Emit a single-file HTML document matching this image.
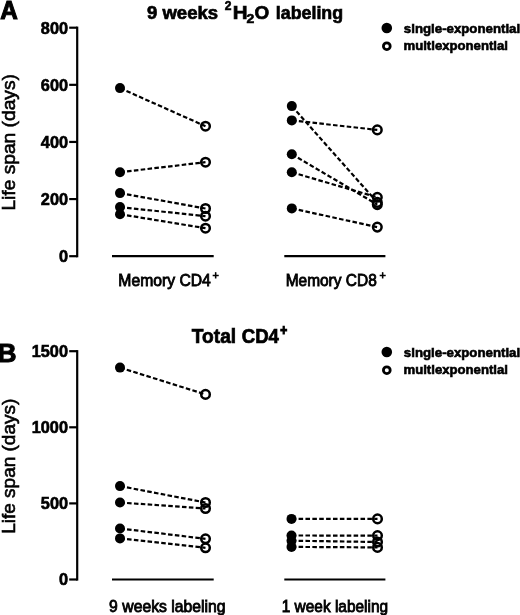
<!DOCTYPE html>
<html lang="en"><head><meta charset="utf-8"><title>Life span estimates</title>
<style>
html,body{margin:0;padding:0;background:#fff;}
body{width:520px;height:615px;overflow:hidden;}
svg{display:block;font-family:"Liberation Sans",Arial,Helvetica,sans-serif;fill:#000;stroke:#000;stroke-width:0;}
.ax{stroke-width:2.2;fill:none;}
.d{stroke-width:2.2;stroke-dasharray:4.55 2.33;stroke-dashoffset:-.2;fill:none;}
.o{stroke-width:2.5;fill:none;}
.tk{font-size:16.3px;font-weight:bold;stroke-width:.6px;}
.xl{font-size:15.5px;stroke-width:.8px;}
.xs{font-size:11.5px;stroke-width:.8px;}
.yl{font-size:19px;stroke-width:.6px;}
.tt{font-size:19px;font-weight:bold;stroke-width:.7px;}
.ts{font-size:13px;font-weight:bold;stroke-width:.6px;}
.tp{font-size:13px;font-weight:bold;stroke-width:1.1px;}
.lg{font-size:13px;font-weight:bold;stroke-width:.6px;}
.pl{font-size:26.3px;font-weight:bold;stroke-width:1.1px;}
</style></head><body>
<svg width="520" height="615" viewBox="0 0 520 615">
<rect width="520" height="615" fill="#fff"/>
<path class="ax" d="M77.2 26.6V257.3"/>
<path class="ax" d="M69.2 27.7H77.2"/>
<text class="tk" x="40.85" y="33.5">800</text>
<path class="ax" d="M69.2 84.83H77.2"/>
<text class="tk" x="40.85" y="90.62">600</text>
<path class="ax" d="M69.2 141.95H77.2"/>
<text class="tk" x="40.85" y="147.75">400</text>
<path class="ax" d="M69.2 199.07H77.2"/>
<text class="tk" x="40.85" y="204.88">200</text>
<path class="ax" d="M69.2 256.2H77.2"/>
<text class="tk" x="58.97" y="262">0</text>
<text class="pl" transform="matrix(0.9255 0 0 1 0.32 18.5)">A</text>
<text class="yl" transform="matrix(0 -1.01 1 0 15.1 210.56)">Life span (days)</text>
<circle cx="386.8" cy="28" r="5.3"/>
<circle class="o" cx="386.8" cy="46.2" r="3.4" style="stroke-width:2.8"/>
<text class="lg" transform="matrix(1.0196 0 0 1.05 403.87 32.6)">single-exponential</text>
<text class="lg" transform="matrix(1.0125 0 0 1.05 403.49 50.4)">multiexponential</text>
<path class="ax" d="M112 256.2H213.7"/>
<path class="d" d="M120 88.1L205.5 126.2"/>
<path class="d" d="M120 172.2L205.5 162.2"/>
<path class="d" d="M120 193.1L205.5 208.5"/>
<path class="d" d="M120 207.1L205.5 216.2"/>
<path class="d" d="M120 214.2L205.5 228.2"/>
<circle cx="120" cy="88.1" r="5"/>
<circle class="o" cx="205.5" cy="126.2" r="4.3"/>
<circle cx="120" cy="172.2" r="5"/>
<circle class="o" cx="205.5" cy="162.2" r="4.3"/>
<circle cx="120" cy="193.1" r="5"/>
<circle class="o" cx="205.5" cy="208.5" r="4.3"/>
<circle cx="120" cy="207.1" r="5"/>
<circle class="o" cx="205.5" cy="216.2" r="4.3"/>
<circle cx="120" cy="214.2" r="5"/>
<circle class="o" cx="205.5" cy="228.2" r="4.3"/>
<path class="ax" d="M284.3 256.2H385.4"/>
<path class="d" d="M291.8 106.1L377.3 202.4"/>
<path class="d" d="M291.8 120.4L377.3 129.9"/>
<path class="d" d="M291.8 154.2L377.3 204.6"/>
<path class="d" d="M291.8 172.3L377.3 197.3"/>
<path class="d" d="M291.8 208.4L377.3 227.1"/>
<circle cx="291.8" cy="106.1" r="5"/>
<circle class="o" cx="377.3" cy="202.4" r="4.3"/>
<circle cx="291.8" cy="120.4" r="5"/>
<circle class="o" cx="377.3" cy="129.9" r="4.3"/>
<circle cx="291.8" cy="154.2" r="5"/>
<circle class="o" cx="377.3" cy="204.6" r="4.3"/>
<circle cx="291.8" cy="172.3" r="5"/>
<circle class="o" cx="377.3" cy="197.3" r="4.3"/>
<circle cx="291.8" cy="208.4" r="5"/>
<circle class="o" cx="377.3" cy="227.1" r="4.3"/>
<path class="ax" d="M77.2 350.1V580.6"/>
<path class="ax" d="M69.2 351.2H77.2"/>
<text class="tk" x="31.72" y="357">1500</text>
<path class="ax" d="M69.2 427.3H77.2"/>
<text class="tk" x="31.72" y="433.1">1000</text>
<path class="ax" d="M69.2 503.4H77.2"/>
<text class="tk" x="40.85" y="509.2">500</text>
<path class="ax" d="M69.2 579.5H77.2"/>
<text class="tk" x="58.97" y="585.3">0</text>
<text class="pl" x="-2.45" y="362.3">B</text>
<text class="yl" transform="matrix(0 -1 1 0 15.1 533.85)">Life span (days)</text>
<circle cx="386.8" cy="352" r="5.3"/>
<circle class="o" cx="386.8" cy="370.2" r="3.4" style="stroke-width:2.8"/>
<text class="lg" transform="matrix(1.0196 0 0 1.05 403.87 356.6)">single-exponential</text>
<text class="lg" transform="matrix(1.0125 0 0 1.05 403.49 374.4)">multiexponential</text>
<path class="ax" d="M112 579.5H213.7"/>
<path class="d" d="M120 367.6L205.5 394.4"/>
<path class="d" d="M120 486.1L205.5 502.5"/>
<path class="d" d="M120 502.5L205.5 508.5"/>
<path class="d" d="M120 528.5L205.5 538.8"/>
<path class="d" d="M120 538.4L205.5 547.8"/>
<circle cx="120" cy="367.6" r="5"/>
<circle class="o" cx="205.5" cy="394.4" r="4.3"/>
<circle cx="120" cy="486.1" r="5"/>
<circle class="o" cx="205.5" cy="502.5" r="4.3"/>
<circle cx="120" cy="502.5" r="5"/>
<circle class="o" cx="205.5" cy="508.5" r="4.3"/>
<circle cx="120" cy="528.5" r="5"/>
<circle class="o" cx="205.5" cy="538.8" r="4.3"/>
<circle cx="120" cy="538.4" r="5"/>
<circle class="o" cx="205.5" cy="547.8" r="4.3"/>
<path class="ax" d="M284.3 579.5H385.4"/>
<path class="d" d="M291.5 518.9L377.5 518.9"/>
<path class="d" d="M291.5 535.5L377.5 535.6"/>
<path class="d" d="M291.5 540.7L377.5 542"/>
<path class="d" d="M291.5 546.9L377.5 547.4"/>
<circle cx="291.5" cy="518.9" r="5"/>
<circle class="o" cx="377.5" cy="518.9" r="4.3"/>
<circle cx="291.5" cy="535.5" r="5"/>
<circle class="o" cx="377.5" cy="535.6" r="4.3"/>
<circle cx="291.5" cy="540.7" r="5"/>
<circle class="o" cx="377.5" cy="542" r="4.3"/>
<circle cx="291.5" cy="546.9" r="5"/>
<circle class="o" cx="377.5" cy="547.4" r="4.3"/>
<text class="tt" transform="matrix(0.9747 0 0 1 147.03 19.3)">9 weeks</text>
<text class="ts" transform="matrix(0.9309 0 0 1 224.68 9.5)">2</text>
<text class="tt" transform="matrix(1.0779 0 0 1 232.76 19.3)">H</text>
<text class="ts" transform="matrix(1.0764 0 0 1 246.47 23.4)">2</text>
<text class="tt" transform="matrix(0.9929 0 0 1 254.43 19.3)">O</text>
<text class="tt" transform="matrix(0.9374 0 0 1 275.86 19.3)">labeling</text>
<text class="tt" transform="matrix(1.0087 0 0 1.03 191.83 343.3)">Total</text>
<text class="tt" transform="matrix(0.9756 0 0 1.03 241.78 343.3)">CD4</text>
<text class="tp" transform="matrix(0.9115 0 0 1.1 280.2 335)">+</text>
<text class="xl" transform="matrix(1.0147 0 0 1.03 118.31 286.2)">Memory CD4</text>
<text class="xs" transform="matrix(0.9412 0 0 1 212.58 278.9)">+</text>
<text class="xl" transform="matrix(0.9986 0 0 1.03 285.63 286.2)">Memory CD8</text>
<text class="xs" transform="matrix(0.9412 0 0 1 379.58 278.9)">+</text>
<text class="xl" transform="matrix(1.0165 0 0 1.03 109.12 611.8)">9 weeks labeling</text>
<text class="xl" transform="matrix(0.9953 0 0 1.03 281.75 611.8)">1 week labeling</text>
</svg></body></html>
